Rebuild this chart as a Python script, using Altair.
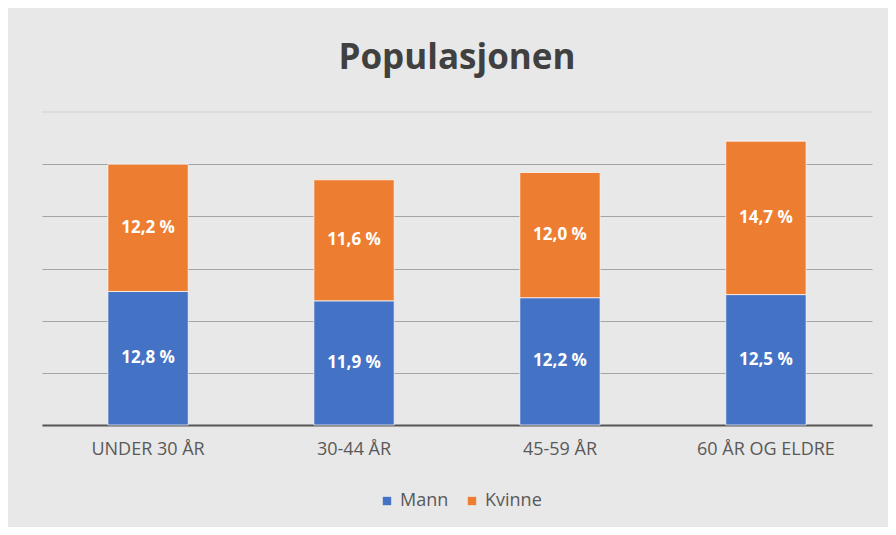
import altair as alt
import pandas as pd

categories = ["UNDER 30 ÅR", "30-44 ÅR", "45-59 ÅR", "60 ÅR OG ELDRE"]
mann = [12.8, 11.9, 12.2, 12.5]
kvinne = [12.2, 11.6, 12.0, 14.7]
series = ["Mann", "Kvinne"]
colors = ["#4472C4", "#ED7D31"]
grid_values = [0, 5, 10, 15, 20, 25]
top_value = [30]

rows = []
for i, c in enumerate(categories):
    for s, vals in zip(series, [mann, kvinne]):
        v = vals[i]
        rows.append({"kat": c, "serie": s, "verdi": v,
                     "ordre": series.index(s),
                     "etikett": f"{v:.1f} %".replace(".", ",")})
df = pd.DataFrame(rows)

FONT = "Open Sans"

base = alt.Chart(df).transform_stack(
    stack="verdi", groupby=["kat"], as_=["y0", "y1"],
    sort=[alt.SortField("ordre", order="ascending")]
).transform_calculate(mid="(datum.y0 + datum.y1) / 2")

yscale = alt.Scale(domain=[0, 30])

xenc = alt.X("kat:N", sort=categories, title=None,
             scale=alt.Scale(paddingInner=0.61, paddingOuter=0.32),
             axis=alt.Axis(labelAngle=0, ticks=False, labelPadding=15,
                           labelFontSize=18, labelColor="#595959", labelFont=FONT,
                           domainColor="#555555", domainWidth=2, grid=False))

bars = base.mark_bar(stroke="#ffffff", strokeWidth=1, strokeOpacity=0.7).encode(
    x=xenc,
    y=alt.Y("y0:Q", title=None, scale=yscale,
            axis=alt.Axis(values=grid_values, labels=False, ticks=False,
                          domain=False, grid=True, gridColor="#a4a4a4", gridWidth=1)),
    y2="y1:Q",
    color=alt.Color("serie:N", scale=alt.Scale(domain=series, range=colors),
                    legend=alt.Legend(title=None, orient="none", direction="horizontal",
                                      legendX=336, legendY=380, symbolType="square",
                                      symbolSize=70, labelFontSize=18, labelFont=FONT,
                                      labelColor="#595959", columnPadding=14,
                                      labelOffset=4, symbolStrokeWidth=0)),
)

top_rule = alt.Chart(pd.DataFrame({"v": top_value})).mark_rule(
    color="#d2d2d2", strokeWidth=1).encode(y=alt.Y("v:Q", scale=yscale))

labels = base.mark_text(color="white", fontSize=17, fontWeight="bold", font=FONT).encode(
    x=alt.X("kat:N", sort=categories),
    y=alt.Y("mid:Q"),
    text="etikett:N",
)

chart = (top_rule + bars + labels).properties(
    width=830, height=313,
    title=alt.TitleParams("Populasjonen", fontSize=35, fontWeight="bold",
                          font=FONT, color="#404040", offset=36, anchor="middle"),
    autosize=alt.AutoSizeParams(type="none"),
    padding={"left": 34, "top": 104, "right": 16, "bottom": 102},
    background="#e8e8e8",
).configure_view(stroke=None)

chart.save("out.html", embed_options={"renderer": "svg", "actions": False})
